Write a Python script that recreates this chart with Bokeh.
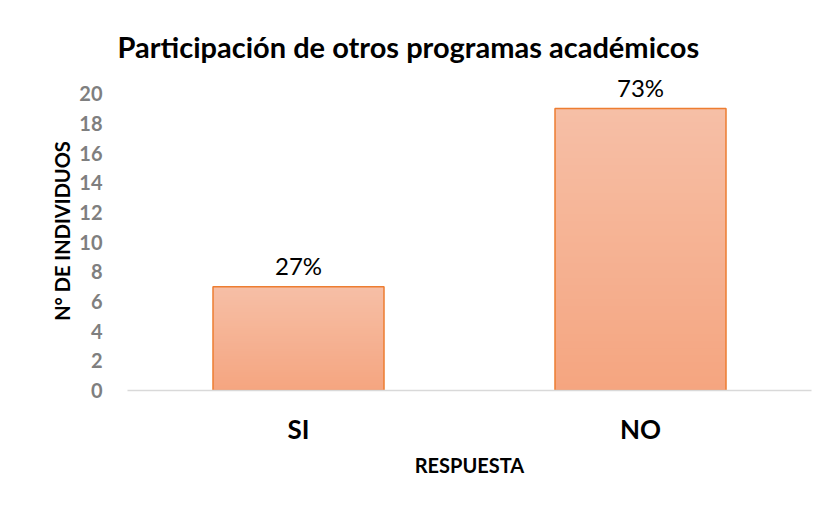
import numpy as np
from bokeh.plotting import figure
from bokeh.models import ColumnDataSource, FixedTicker, Range1d
from bokeh.core.properties import value
from bokeh.embed import file_html
from bokeh.resources import INLINE

categories = ["SI", "NO"]
counts = [7, 19]
percent_labels = ["27%", "73%"]
y_ticks = [0, 2, 4, 6, 8, 10, 12, 14, 16, 18, 20]

FONT = "Lato"

p = figure(x_range=categories, y_range=Range1d(0, 21.5),
           frame_width=684, frame_height=319,
           min_border_left=127, min_border_right=4,
           min_border_top=71, min_border_bottom=112,
           output_backend="svg", toolbar_location=None,
           title="Participación de otros programas académicos")

p.title.align = "left"
p.title.offset = -10
p.title.standoff = 16
p.title.text_font = FONT
p.title.text_font_size = "29px"
p.title.text_font_style = "bold"
p.title.text_color = "#000000"

# gradient bars built from the data values (nested bars, largest first)
n = 40
top_col = np.array([0xF6, 0xBF, 0xA6])
bot_col = np.array([0xF5, 0xA5, 0x80])
xs, tops, cols = [], [], []
for c, v in zip(categories, counts):
    for i in range(n, 0, -1):
        f = (i - 0.5) / n
        rgb = bot_col + (top_col - bot_col) * f
        xs.append(c)
        tops.append(v * i / n)
        cols.append("#%02x%02x%02x" % tuple(int(round(t)) for t in rgb))
p.vbar(x=xs, bottom=0, top=tops, width=0.5, fill_color=cols, line_color=None)

src = ColumnDataSource(dict(cat=categories, cnt=counts, lab=percent_labels))
p.vbar(x="cat", top="cnt", width=0.5, source=src, fill_alpha=0,
       line_color="#ed7d31", line_width=1.5)
p.text(x="cat", y="cnt", text="lab", source=src, text_align="center",
       text_baseline="bottom", y_offset=-7, text_font=value(FONT),
       text_font_size="24px", text_color="#000000")

p.xgrid.visible = False
p.ygrid.visible = False
p.outline_line_color = None

p.yaxis.ticker = FixedTicker(ticks=y_ticks)
p.yaxis.axis_line_color = None
p.yaxis.major_tick_line_color = None
p.yaxis.minor_tick_line_color = None
p.yaxis.major_label_standoff = 19
p.yaxis.major_label_text_font = FONT
p.yaxis.major_label_text_font_size = "20px"
p.yaxis.major_label_text_font_style = "bold"
p.yaxis.major_label_text_color = "#7f7f7f"
p.yaxis.axis_label = "N° DE INDIVIDUOS"
p.yaxis.axis_label_text_font = FONT
p.yaxis.axis_label_text_font_size = "20px"
p.yaxis.axis_label_text_font_style = "bold"
p.yaxis.axis_label_text_color = "#000000"
p.yaxis.axis_label_standoff = 2

p.xaxis.axis_line_color = "#d9d9d9"
p.xaxis.axis_line_width = 1.5
p.xaxis.major_tick_line_color = None
p.xaxis.minor_tick_line_color = None
p.xaxis.major_label_standoff = 16
p.xaxis.major_label_text_font = FONT
p.xaxis.major_label_text_font_size = "26px"
p.xaxis.major_label_text_font_style = "bold"
p.xaxis.major_label_text_color = "#000000"
p.xaxis.axis_label = "RESPUESTA"
p.xaxis.axis_label_text_font = FONT
p.xaxis.axis_label_text_font_size = "20px"
p.xaxis.axis_label_text_font_style = "bold"
p.xaxis.axis_label_text_color = "#000000"
p.xaxis.axis_label_standoff = 5

p.x_range.range_padding = 0.0

open("out.html", "w").write(file_html(p, INLINE))
